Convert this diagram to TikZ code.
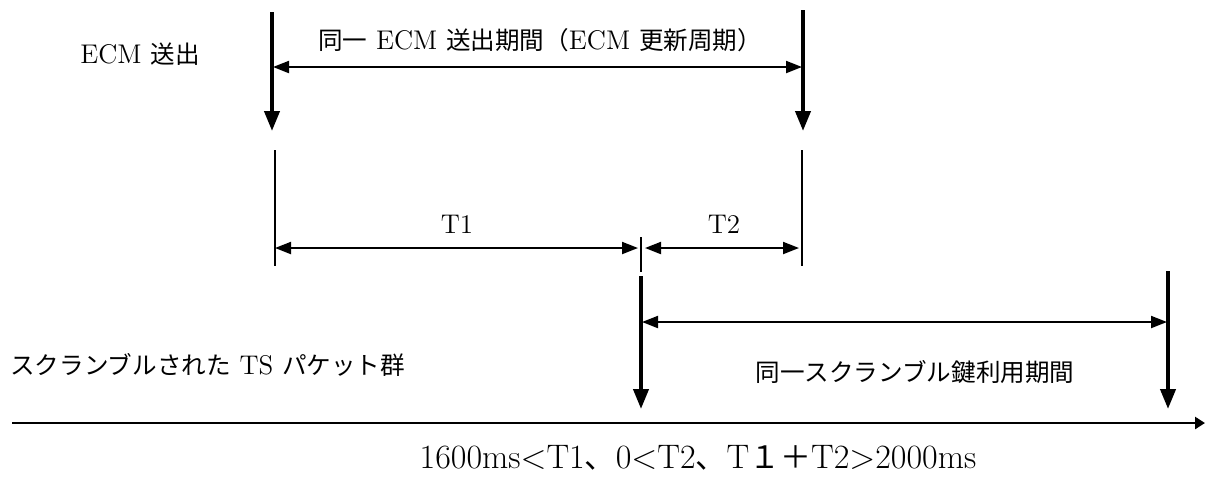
\documentclass[tikz,border=0pt]{standalone}
\usepackage{fontspec}
\newfontfamily\cjk{Noto Sans CJK JP}[Scale=0.91]
\usetikzlibrary{arrows.meta}
\begin{document}
\begin{tikzpicture}[x=0.5pt,y=-0.5pt,
  thickarrow/.style={line width=2pt,-{Triangle[width=7.5pt,length=10pt]}},
  span/.style={line width=1pt,{Triangle[width=6pt,length=8pt]}-{Triangle[width=6pt,length=8pt]}},
  tickline/.style={line width=0.7pt},
  axisline/.style={line width=1.3pt,-{Triangle[width=6pt,length=5pt]}},
  lbl/.style={font=\fontsize{13.5}{16}\selectfont, inner sep=0pt}]
\useasboundingbox (0,0) rectangle (1205,495);
% coordinates
\coordinate (e1t) at (272,12);  \coordinate (e1b) at (272,131);
\coordinate (e2t) at (803,10);  \coordinate (e2b) at (803,131);
\coordinate (s1) at (273,67);   \coordinate (s2) at (802,67);
\coordinate (k1t) at (275,150); \coordinate (k1b) at (275,266);
\coordinate (k3t) at (802,150); \coordinate (k3b) at (802,266);
\coordinate (k2t) at (641,237); \coordinate (k2b) at (641,272);
\coordinate (t1a) at (275,248); \coordinate (t1b) at (638,248);
\coordinate (t2a) at (645,248); \coordinate (t2b) at (799,248);
\coordinate (p1t) at (641,276); \coordinate (p1b) at (641,409);
\coordinate (p2t) at (1168,271);\coordinate (p2b) at (1168,409);
\coordinate (q1) at (642,322);  \coordinate (q2) at (1167,322);
\coordinate (ax1) at (12,423);  \coordinate (ax2) at (1205,423);
% arrows
\draw[thickarrow] (e1t) -- (e1b);
\draw[thickarrow] (e2t) -- (e2b);
\draw[span] (s1) -- (s2);
\draw[tickline] (k1t) -- (k1b);
\draw[tickline] (k3t) -- (k3b);
\draw[tickline] (k2t) -- (k2b);
\draw[span] (t1a) -- (t1b);
\draw[span] (t2a) -- (t2b);
\draw[thickarrow] (p1t) -- (p1b);
\draw[thickarrow] (p2t) -- (p2b);
\draw[span] (q1) -- (q2);
\draw[axisline] (ax1) -- (ax2);
% labels
\node[lbl] (ecmperiod) at (540,40) {{\cjk 同一} ECM {\cjk 送出期間（}ECM {\cjk 更新周期）}};
\node[lbl,anchor=west] (ecmsend) at (80,54) {ECM {\cjk 送出}};
\node[lbl] (lt1) at (457,224) {T1};
\node[lbl] (lt2) at (724,224) {T2};
\node[lbl] (keyperiod) at (915,372) {\cjk 同一スクランブル鍵利用期間};
\node[lbl,anchor=west] (ts) at (10,365) {{\cjk スクランブルされた} TS {\cjk パケット群}};
\node[lbl,font=\fontsize{17}{20}\selectfont] (cond) at (698,458) {1600ms<T1{\cjk 、}0<T2{\cjk 、}T{\cjk １＋}T2>2000ms};
\end{tikzpicture}
\end{document}
